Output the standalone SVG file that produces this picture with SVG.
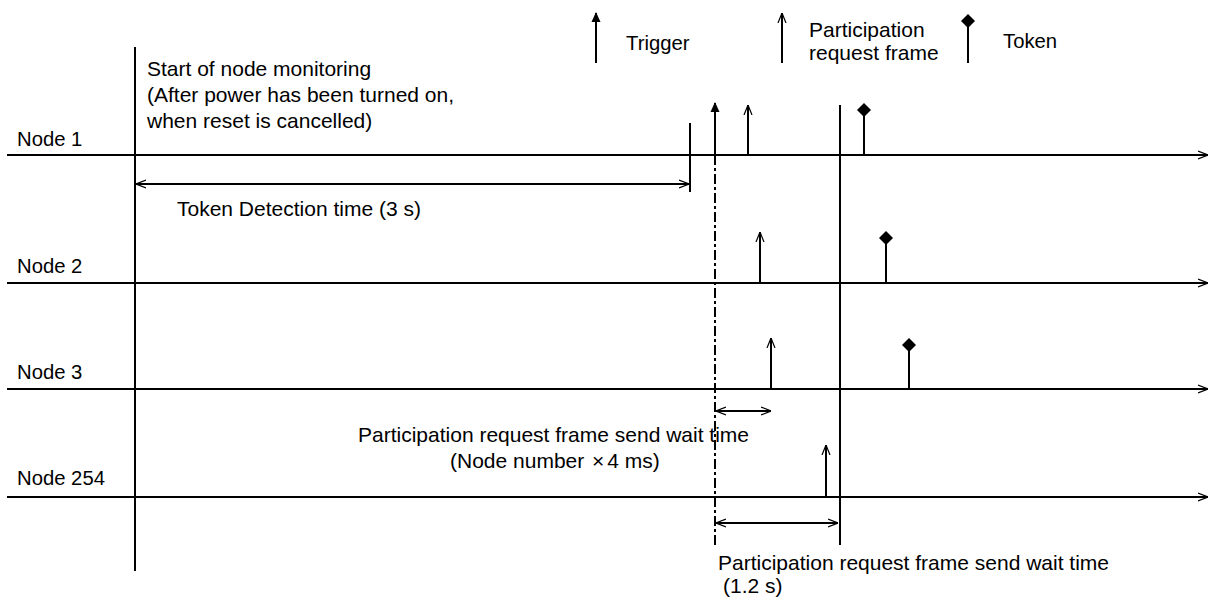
<svg xmlns="http://www.w3.org/2000/svg" width="1212" height="601" viewBox="0 0 1212 601">
  <defs>
    <marker id="open" viewBox="0 0 10 10" refX="10" refY="5" markerWidth="10" markerHeight="10" orient="auto-start-reverse" markerUnits="userSpaceOnUse">
      <path d="M0,1 L10,5 L0,9" fill="none" stroke="#000" stroke-width="1.2"/>
    </marker>
    <marker id="filled" viewBox="0 0 10 10" refX="9" refY="5" markerWidth="10" markerHeight="10" orient="auto" markerUnits="userSpaceOnUse">
      <path d="M0,0.5 L10,5 L0,9.5 Z" fill="#000"/>
    </marker>
    <marker id="diamond" viewBox="0 0 14 14" refX="7" refY="7" markerWidth="14" markerHeight="14" orient="auto" markerUnits="userSpaceOnUse">
      <path d="M0,7 L7,0 L14,7 L7,14 Z" fill="#000"/>
    </marker>
  </defs>
  <style>
    text { font-family: "Liberation Sans", Arial, sans-serif; font-size: 21px; fill: #000; }
    .lab { font-size: 20.3px; }
    .ln { stroke: #000; stroke-width: 2; fill: none; }
    .axis { marker-end: url(#open); }
    .dim { marker-start: url(#open); marker-end: url(#open); }
    .pr { marker-end: url(#open); }
    .tr { marker-end: url(#filled); }
    .tk { marker-end: url(#diamond); }
    .dd { stroke-dasharray: 10 3 3 3; }
  </style>

  <g id="legend">
    <line class="ln tr" x1="596" y1="63" x2="596" y2="13"/>
    <text class="lab" x="626" y="50">Trigger</text>
    <line class="ln pr" x1="782" y1="63" x2="782" y2="13"/>
    <text x="809" y="37">Participation</text>
    <text x="809" y="60">request frame</text>
    <line class="ln tk" x1="968" y1="63" x2="968" y2="21"/>
    <text class="lab" x="1003" y="48">Token</text>
  </g>

  <g id="node1">
    <text class="lab" x="17" y="146">Node 1</text>
  </g>
  <g id="node2">
    <text class="lab" x="17" y="273">Node 2</text>
  </g>
  <g id="node3">
    <text class="lab" x="17" y="379">Node 3</text>
  </g>
  <g id="node254">
    <text class="lab" x="17" y="485">Node 254</text>
  </g>

  <g id="start-label">
    <text x="147" y="76">Start of node monitoring</text>
    <text x="147" y="102">(After power has been turned on,</text>
    <text x="147" y="128">when reset is cancelled)</text>
  </g>
  <g id="token-detection-label">
    <text x="177" y="216">Token Detection time (3 s)</text>
  </g>
  <g id="wait-label-1">
    <text x="358" y="442">Participation request frame send wait time</text>
    <text x="450" y="468">(Node number <tspan dx="2">×</tspan><tspan dx="3">4 ms)</tspan></text>
  </g>
  <g id="wait-label-2">
    <text x="718" y="570">Participation request frame send wait time</text>
    <text x="723" y="593">(1.2 s)</text>
  </g>

  <g id="connectors">
    <!-- time axes -->
    <line class="ln axis" x1="7" y1="155" x2="1208" y2="155"/>
    <line class="ln axis" x1="7" y1="283" x2="1208" y2="283"/>
    <line class="ln axis" x1="7" y1="389" x2="1208" y2="389"/>
    <line class="ln axis" x1="7" y1="497" x2="1208" y2="497"/>
    <!-- verticals -->
    <line class="ln" x1="135" y1="47" x2="135" y2="571"/>
    <line class="ln" x1="690" y1="123" x2="690" y2="192"/>
    <line class="ln dd" x1="715" y1="155" x2="715" y2="545"/>
    <line class="ln" x1="840" y1="105" x2="840" y2="545"/>
    <!-- dimensions -->
    <line class="ln dim" x1="136" y1="184" x2="689" y2="184"/>
    <line class="ln dim" x1="716" y1="411" x2="771" y2="411"/>
    <line class="ln dim" x1="716" y1="523" x2="838" y2="523"/>
    <!-- trigger -->
    <line class="ln tr" x1="715" y1="155" x2="715" y2="103"/>
    <!-- participation request frames -->
    <line class="ln pr" x1="748" y1="155" x2="748" y2="105"/>
    <line class="ln pr" x1="760" y1="283" x2="760" y2="232"/>
    <line class="ln pr" x1="771" y1="389" x2="771" y2="338"/>
    <line class="ln pr" x1="826" y1="497" x2="826" y2="445"/>
    <!-- tokens -->
    <line class="ln tk" x1="864" y1="155" x2="864" y2="110"/>
    <line class="ln tk" x1="886" y1="283" x2="886" y2="238"/>
    <line class="ln tk" x1="909" y1="389" x2="909" y2="345"/>
  </g>
</svg>
